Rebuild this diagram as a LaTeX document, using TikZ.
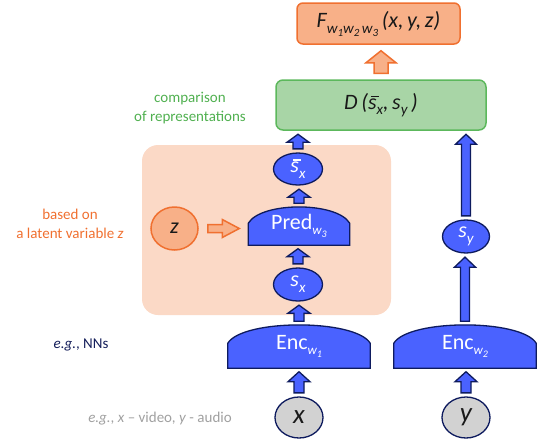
\documentclass[tikz,border=0pt]{standalone}
\usepackage{fontspec}
\setmainfont{Carlito}
\usetikzlibrary{shapes.geometric,calc}
\pgfdeclarelayer{back}
\pgfdeclarelayer{bg}
\pgfsetlayers{back,bg,main}
\definecolor{blueF}{RGB}{74,98,255}
\definecolor{navyB}{RGB}{14,27,94}
\definecolor{grayF}{RGB}{210,210,210}
\definecolor{peach}{RGB}{251,217,198}
\definecolor{salmon}{RGB}{248,176,136}
\definecolor{orangeB}{RGB}{240,112,48}
\definecolor{greenF}{RGB}{168,213,166}
\definecolor{greenB}{RGB}{92,184,92}
\definecolor{greenT}{RGB}{80,176,80}
\definecolor{navyT}{RGB}{20,30,90}
\definecolor{grayT}{RGB}{160,160,160}
\definecolor{darkT}{RGB}{25,25,25}
\newcommand\wsub[1]{\raisebox{-5pt}{\fontsize{13}{13}\selectfont\itshape w\raisebox{-3pt}{\fontsize{10}{10}\selectfont #1}}}
\newcommand\lowsub[2]{\raisebox{-#2}{\fontsize{15}{15}\selectfont #1}}
\newcommand\sbarx{\makebox[0pt][l]{\hspace{0.13em}\raisebox{0.56em}{\rule{0.36em}{0.06em}}}s}
% vertical block arrow: style, from, to, half shaft, half head, head length, gap
\newcommand\barup[7]{\draw[#1] let \p1=(#2), \p2=(#3) in
  (\x1-#4pt,\y1+#7pt) -- (\x1-#4pt,\y2-#7pt-#6pt) -- (\x1-#5pt,\y2-#7pt-#6pt) -- (\x1,\y2-#7pt)
  -- (\x1+#5pt,\y2-#7pt-#6pt) -- (\x1+#4pt,\y2-#7pt-#6pt) -- (\x1+#4pt,\y1+#7pt) -- cycle;}
% horizontal block arrow
\newcommand\barright[7]{\draw[#1] let \p1=(#2), \p2=(#3) in
  (\x1+#7pt,\y1-#4pt) -- (\x2-#7pt-#6pt,\y1-#4pt) -- (\x2-#7pt-#6pt,\y1-#5pt) -- (\x2-#7pt,\y1)
  -- (\x2-#7pt-#6pt,\y1+#5pt) -- (\x2-#7pt-#6pt,\y1+#4pt) -- (\x1+#7pt,\y1+#4pt) -- cycle;}
% dome shape behind a node: node, side height, control x offset, control above top
\newcommand\dome[4]{\draw[blk] (#1.south west) -- ([yshift=#2]#1.south west)
  .. controls ([xshift=#3,yshift=#4]#1.north west) and ([xshift=-#3,yshift=#4]#1.north east)
  .. ([yshift=#2]#1.south east) -- (#1.south east) -- cycle;}
\begin{document}
\begin{tikzpicture}[x=1pt,y=-1pt,
  blk/.style={fill=blueF,draw=navyB,line width=1.3pt},
  oblk/.style={fill=salmon,draw=orangeB,line width=1.5pt},
  bell/.style={ellipse,blk,inner sep=0pt,text=white,font=\fontsize{22}{22}\selectfont\itshape},
  gell/.style={ellipse,fill=grayF,draw=navyB,line width=1.3pt,inner sep=0pt,text=darkT,font=\fontsize{27}{27}\selectfont\itshape},
  zell/.style={ellipse,oblk,inner sep=0pt,text=darkT,font=\fontsize{22}{22}\selectfont\itshape},
  domebox/.style={rectangle,inner sep=0pt,text=white,font=\fontsize{22}{22}\selectfont},
  lbl/.style={align=center,inner sep=0pt,font=\fontsize{15}{18.5}\selectfont}]
\useasboundingbox (0,0) rectangle (539,440);
\begin{pgfonlayer}{back}
\fill[peach,rounded corners=16pt] (142,145) rectangle (391,315);
\end{pgfonlayer}
% top boxes
\node[rectangle,rounded corners=6pt,draw=orangeB,fill=salmon,line width=1.5pt,minimum width=163,minimum height=41,inner sep=0pt,text=darkT,font=\fontsize{22}{22}\selectfont\itshape] (F) at (378.5,23.5)
 {F\raisebox{-6pt}{\fontsize{15}{15}\selectfont w\raisebox{-3pt}{\fontsize{11}{11}\selectfont 1}w\raisebox{-3pt}{\fontsize{11}{11}\selectfont 2}\,w\raisebox{-3pt}{\fontsize{11}{11}\selectfont 3}}\,(x,\,y,\,z)};
\node[rectangle,rounded corners=7pt,draw=greenB,fill=greenF,line width=1.5pt,minimum width=210,minimum height=50,inner sep=0pt,text=darkT,font=\fontsize{22}{22}\selectfont\itshape] (D) at (381,105)
 {D\,(\sbarx\lowsub{x}{5pt},\,s\lowsub{y}{5pt}\,)};
% left column
\node[bell,minimum width=49,minimum height=32] (sbar) at (298,169) {\sbarx\lowsub{x}{6pt}};
\node[domebox,minimum width=101,minimum height=38] (pred) at (299,226) {Pred\wsub{3}};
\node[bell,minimum width=49,minimum height=33] (sx) at (298,284.5) {s\lowsub{x}{6pt}};
\node[domebox,minimum width=142,minimum height=43] (e1) at (299,346.5) {Enc\wsub{1}};
\node[gell,minimum width=48,minimum height=41] (x) at (299,417.5) {x};
% right column
\node[bell,minimum width=47,minimum height=33] (sy) at (466,236.5) {s\lowsub{y}{6pt}};
\node[domebox,minimum width=142,minimum height=43] (e2) at (465,346.5) {Enc\wsub{2}};
\node[gell,minimum width=48,minimum height=41] (y) at (466,417.5) {y};
% z
\node[zell,minimum width=47,minimum height=43] (z) at (174.5,228.5) {z};
\begin{pgfonlayer}{bg}
\dome{pred}{22pt}{13pt}{5.3pt}
\dome{e1}{25pt}{15pt}{6pt}
\dome{e2}{25pt}{15pt}{6pt}
\end{pgfonlayer}
% labels
\node[lbl,text=greenT] (cmp) at (190,108) {comparison\\of representations};
\node[lbl,text=orangeB] (lat) at (70,224) {based on\\a latent variable \textit{z}};
\node[lbl,text=navyT] (nn) at (81,345) {\textit{e.g.}, NNs};
\node[lbl,text=grayT] (ex) at (160,419) {\textit{e.g.}, \textit{x} – video, \textit{y} - audio};
% arrows
\barup{oblk}{D.north}{F.south}{7}{15}{12}{6}
\barup{blk}{sbar.north}{D.south}{5}{11}{8}{3.5}
\barup{blk}{pred.north}{sbar.south}{5}{11}{8}{3.5}
\barup{blk}{sx.north}{pred.south}{5}{11}{8}{3.5}
\barup{blk}{e1.north}{sx.south}{5}{11}{8}{3.5}
\barup{blk}{x.north}{e1.south}{5}{11}{10}{3.5}
\barup{blk}{sy.north}{D.south}{4.5}{10.5}{10}{3.5}
\barup{blk}{e2.north}{sy.south}{4.5}{10.5}{10}{3.5}
\barup{blk}{y.north}{e2.south}{5}{11}{10}{3.5}
\barright{oblk}{z.east}{pred.west}{4}{9}{17}{9}
\end{tikzpicture}
\end{document}
